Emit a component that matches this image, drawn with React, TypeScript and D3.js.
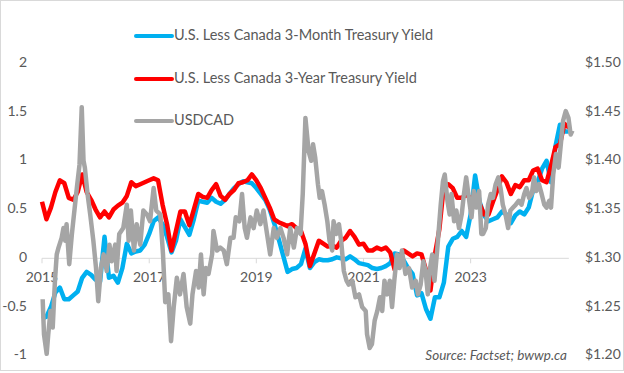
import * as d3 from "d3";

// month offsets from Jan 2015 (one value per month)
const threeMonth = [
  -0.62, -0.6, -0.5, -0.35, -0.3, -0.42, -0.42, -0.38, -0.34, -0.2, -0.14, -0.17,
  -0.22, -0.24, 0.22, -0.2, -0.18, -0.25, -0.1, 0.15, 0.05, 0.07, 0.08, 0.14,
  0.25, 0.38, 0.42, 0.35, 0.22, 0.06, 0.18, 0.4, 0.32, 0.24, 0.4, 0.59,
  0.58, 0.57, 0.62, 0.58, 0.56, 0.6, 0.66, 0.72, 0.76, 0.79, 0.78, 0.77,
  0.72, 0.66, 0.6, 0.5, 0.36, 0.2, 0.03, -0.14, -0.11, -0.1, -0.06, 0.1,
  -0.1, -0.04, -0.01, -0.02, -0.02, -0.01, 0.01, 0.0, -0.01, 0.02, -0.01, -0.05,
  -0.06, -0.07, -0.1, -0.11, -0.1, -0.08, -0.05, 0.05, 0.04, -0.02, -0.1, -0.16,
  -0.38, -0.36, -0.52, -0.62, -0.4, -0.4, -0.25, 0.12, 0.2, 0.22, 0.28, 0.22,
  0.45, 0.85, 0.58, 0.44, 0.38, 0.4, 0.42, 0.48, 0.45, 0.36, 0.44, 0.48,
  0.45, 0.52, 0.7, 0.78, 0.92, 1.0, 0.78, 1.15, 1.37, 1.3, 1.3,
];

const threeYear = [
  0.58, 0.4, 0.52, 0.68, 0.8, 0.77, 0.62, 0.6, 0.68, 0.86, 0.68, 0.6,
  0.5, 0.42, 0.48, 0.42, 0.5, 0.54, 0.57, 0.64, 0.78, 0.74, 0.76, 0.78,
  0.8, 0.82, 0.8, 0.55, 0.35, 0.08, 0.28, 0.48, 0.48, 0.34, 0.5, 0.66,
  0.63, 0.62, 0.7, 0.76, 0.64, 0.6, 0.66, 0.7, 0.77, 0.78, 0.8, 0.86,
  0.8, 0.72, 0.62, 0.52, 0.4, 0.37, 0.35, 0.33, 0.35, 0.31, 0.28, 0.15,
  -0.08, 0.05, 0.18, 0.15, 0.12, 0.13, 0.11, 0.18, 0.21, 0.28, 0.22, 0.14,
  0.15, 0.08, 0.08, 0.11, 0.09, 0.11, 0.06, -0.12, 0.0, 0.08, 0.05, 0.02,
  0.05, 0.04, -0.12, -0.33, 0.04, 0.3, 0.75, 0.76, 0.72, 0.62, 0.62, 0.65,
  0.62, 0.62, 0.56, 0.45, 0.45, 0.58, 0.7, 0.84, 0.78, 0.66, 0.75, 0.73,
  0.8, 0.8, 0.9, 0.92, 0.8, 0.78, 0.95, 1.14, 1.17, 1.38, 1.34,
];

// USDCAD, sampled about twice a month
const usdMonths = [
  0.15, 0.45, 1.05, 1.4, 1.9, 2.4, 2.9, 3.3, 3.7, 4.4, 4.8, 5.2, 5.5, 6.1, 6.7, 7.0,
  7.8, 8.4, 8.9, 9.3, 9.6, 10.2, 10.8, 11.5, 12.1, 12.6, 13.2, 13.8, 14.5, 15.1, 15.6, 16.4,
  16.7, 17.3, 18.2, 19.0, 19.4, 19.9, 20.6, 21.2, 22.0, 22.7, 23.5, 24.2, 25.0, 25.6, 26.5, 27.1,
  27.6, 28.3, 28.9, 29.5, 30.2, 30.9, 31.7, 32.4, 33.2, 33.7, 34.5, 35.1, 35.6, 36.2, 36.7, 37.3,
  38.1, 38.4, 39.2, 39.9, 40.7, 41.4, 42.2, 42.9, 43.4, 44.2, 44.8, 45.4, 45.9, 46.7, 47.4, 48.1,
  48.9, 49.6, 50.4, 51.1, 51.9, 52.6, 53.4, 54.1, 54.9, 55.6, 56.4, 57.1, 57.9, 58.4, 59.0, 59.7,
  60.3, 60.7, 61.2, 61.8, 62.2, 62.7, 63.3, 63.9, 64.4, 65.0, 65.3, 65.9, 66.5, 67.0, 67.6, 68.2,
  68.7, 69.5, 70.2, 71.0, 71.7, 72.5, 72.8, 73.4, 73.9, 74.5, 75.1, 75.7, 76.2, 76.7, 77.3, 77.9,
  78.4, 78.9, 79.5, 80.1, 80.6, 81.4, 82.2, 82.9, 83.7, 84.2, 84.8, 85.4, 85.9, 86.4, 86.9, 87.4,
  87.9, 88.5, 89.3, 89.8, 90.2, 90.8, 91.3, 91.7, 92.3, 92.8, 93.4, 94.0, 94.5, 95.0, 95.6, 96.2,
  96.7, 97.3, 97.9, 98.4, 98.8, 99.4, 99.9, 100.5, 101.0, 101.6, 102.2, 102.7, 103.2, 103.8, 104.4, 104.9,
  105.5, 106.1, 106.8, 107.4, 108.0, 108.5, 109.1, 109.7, 110.2, 110.7, 111.3, 111.9, 112.5, 113.0, 113.6, 114.0,
  114.5, 115.1, 115.7, 116.2, 116.7, 117.3, 117.9, 118.4, 118.8,
];

const usdcad = [
  1.258, 1.222, 1.202, 1.222, 1.246, 1.229, 1.277, 1.304, 1.311, 1.321, 1.331, 1.318, 1.335, 1.294, 1.325, 1.338,
  1.372, 1.396, 1.455, 1.4, 1.393, 1.366, 1.345, 1.318, 1.29, 1.256, 1.29, 1.304, 1.287, 1.314, 1.297, 1.314,
  1.287, 1.325, 1.331, 1.355, 1.318, 1.349, 1.308, 1.335, 1.314, 1.349, 1.345, 1.338, 1.372, 1.349, 1.345, 1.304,
  1.255, 1.263, 1.215, 1.25, 1.28, 1.263, 1.284, 1.25, 1.233, 1.263, 1.287, 1.27, 1.304, 1.263, 1.29, 1.284,
  1.304, 1.328, 1.308, 1.311, 1.308, 1.294, 1.321, 1.321, 1.342, 1.338, 1.366, 1.331, 1.321, 1.342, 1.331, 1.349,
  1.335, 1.349, 1.325, 1.304, 1.331, 1.321, 1.331, 1.321, 1.304, 1.331, 1.311, 1.331, 1.325, 1.366, 1.444, 1.41,
  1.4, 1.417, 1.403, 1.376, 1.362, 1.369, 1.355, 1.338, 1.318, 1.308, 1.338, 1.325, 1.335, 1.318, 1.287, 1.277,
  1.273, 1.277, 1.26, 1.263, 1.25, 1.246, 1.222, 1.208, 1.212, 1.236, 1.246, 1.26, 1.246, 1.277, 1.263, 1.277,
  1.25, 1.277, 1.304, 1.29, 1.308, 1.284, 1.29, 1.27, 1.277, 1.263, 1.273, 1.297, 1.287, 1.263, 1.29, 1.304,
  1.277, 1.308, 1.355, 1.379, 1.386, 1.359, 1.345, 1.366, 1.338, 1.349, 1.331, 1.345, 1.366, 1.383, 1.362, 1.342,
  1.369, 1.352, 1.369, 1.325, 1.325, 1.331, 1.355, 1.366, 1.362, 1.376, 1.383, 1.372, 1.355, 1.345, 1.331, 1.349,
  1.352, 1.355, 1.359, 1.355, 1.366, 1.372, 1.362, 1.366, 1.383, 1.369, 1.376, 1.366, 1.355, 1.352, 1.359, 1.352,
  1.386, 1.407, 1.393, 1.417, 1.441, 1.451, 1.444, 1.427, 1.431,
];

const leftTicks = [-1, -0.5, 0, 0.5, 1, 1.5, 2];
const rightTicks = [1.2, 1.25, 1.3, 1.35, 1.4, 1.45, 1.5];
const yearTicks = [2015, 2017, 2019, 2021, 2023];

const legendItems = [
  { label: "U.S. Less Canada 3-Month Treasury Yield", color: "#00B0F0" },
  { label: "U.S. Less Canada 3-Year Treasury Yield", color: "#FF0000" },
  { label: "USDCAD", color: "#A5A5A5" },
];

const W = 624;
const H = 373;
const FONT = "Lato, 'Open Sans', sans-serif";
const TEXT = "#595959";

const base = new Date(2015, 0, 1).getTime();
const monthMs = 30.4375 * 864e5;
const toDate = (m: number) => new Date(base + m * monthMs);

export default function App() {
  const x = d3.scaleTime().domain([toDate(0), toDate(120)]).range([42, 577.8]);
  const yL = d3.scaleLinear().domain([-1, 2]).range([355.8, 63.3]);
  const yR = d3.scaleLinear().domain([1.2, 1.5]).range([355.8, 63.3]);

  const yieldLine = d3
    .line<number>()
    .x((_, i) => x(toDate(i)))
    .y((d) => yL(d));
  const usdLine = d3
    .line<number>()
    .x((_, i) => x(toDate(usdMonths[i])))
    .y((d) => yR(d));

  const y0 = yL(0);
  const xEnd = x(toDate(threeMonth.length - 1));

  return (
    <svg
      width={W}
      height={H}
      style={{ position: "absolute", left: 0, top: 0, background: "#fff" }}
      fontFamily={FONT}
    >
      <rect x={0.5} y={0.5} width={W - 1} height={370} fill="#fff" stroke="#d9d9d9" />

      {/* zero axis */}
      <line x1={x(toDate(0))} x2={xEnd} y1={y0} y2={y0} stroke="#d9d9d9" strokeWidth={1} />
      {yearTicks.map((yr) => {
        const xx = x(new Date(yr, 0, 1));
        return (
          <g key={yr}>
            <line x1={xx} x2={xx} y1={y0} y2={y0 + 5} stroke="#d9d9d9" />
            <text x={xx} y={y0 + 20} textAnchor="middle" dominantBaseline="middle" fontSize={14} fill={TEXT}>
              {yr}
            </text>
          </g>
        );
      })}

      {leftTicks.map((t) => (
        <text key={t} x={27} y={yL(t)} textAnchor="end" dominantBaseline="middle" fontSize={14} fill={TEXT}>
          {t}
        </text>
      ))}
      {rightTicks.map((t) => (
        <text key={t} x={585} y={yR(t)} textAnchor="start" dominantBaseline="middle" fontSize={14} fill={TEXT}>
          {d3.format("$.2f")(t)}
        </text>
      ))}

      <path d={yieldLine(threeMonth) ?? ""} fill="none" stroke="#00B0F0" strokeWidth={4.5} strokeLinejoin="round" />
      <path d={yieldLine(threeYear) ?? ""} fill="none" stroke="#FF0000" strokeWidth={4.5} strokeLinejoin="round" />
      <path d={usdLine(usdcad) ?? ""} fill="none" stroke="#A5A5A5" strokeWidth={4.5} strokeLinejoin="round" />

      {legendItems.map((it, i) => {
        const ly = [36, 79, 121][i];
        return (
          <g key={it.label}>
            <line x1={136} x2={172} y1={ly} y2={ly} stroke={it.color} strokeWidth={4} strokeLinecap="round" />
            <text x={174} y={ly} dominantBaseline="middle" fontSize={14.5} fill={TEXT}>
              {it.label}
            </text>
          </g>
        );
      })}

      <text x={567} y={357} textAnchor="end" dominantBaseline="middle" fontSize={13.5} fontStyle="italic" fill={TEXT}>
        Source: Factset; bwwp.ca
      </text>
    </svg>
  );
}
